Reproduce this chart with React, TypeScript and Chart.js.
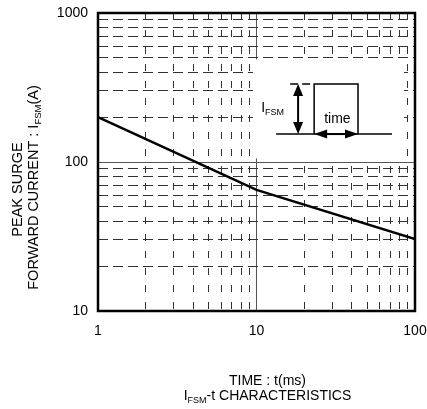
import { useEffect, useRef } from "react";
import { Chart, registerables } from "chart.js";

Chart.register(...registerables);

// ---- data ----
const times = [1, 10, 100];
const currents = [200, 65, 30.4];

const xGridValues = [1, 2, 3, 4, 5, 6, 7, 8, 9, 10, 20, 30, 40, 50, 60, 70, 80, 90, 100];
const yGridValues = [10, 20, 30, 40, 50, 60, 70, 80, 90, 100, 200, 300, 400, 500, 600, 700, 800, 900, 1000];
const xLabelValues = [1, 10, 100];
const yLabelValues = [10, 100, 1000];
const xSolidValues = [10];
const ySolidValues = [100];

// inset (blank box with pulse sketch), in data units
const insetBoxX = [9.5, 85.3];
const insetBoxY = [105.6, 488];
const pulseX = [23.1, 43.7];
const pulseLevels = [154, 334];
const baselineX = [13.3, 71.6];
const ampArrowX = 18.3;
const topDashX = [16.3, 23.1];
const ampLabelPos = [10.7, 230];
const timeLabelPos = [32.4, 194];

const FONT = "'Liberation Sans', Arial, Helvetica, sans-serif";

type Seg = { t: string; sub?: boolean };

function richWidth(ctx: CanvasRenderingContext2D, segs: Seg[], size: number, subSize: number) {
  let w = 0;
  for (const s of segs) {
    ctx.font = `${s.sub ? subSize : size}px ${FONT}`;
    w += ctx.measureText(s.t).width;
  }
  return w;
}

function drawRich(
  ctx: CanvasRenderingContext2D,
  segs: Seg[],
  x: number,
  y: number,
  size: number,
  subSize: number,
  align: "center" | "left"
) {
  const w = richWidth(ctx, segs, size, subSize);
  let cx = align === "center" ? x - w / 2 : x;
  ctx.textAlign = "left";
  ctx.textBaseline = "alphabetic";
  for (const s of segs) {
    ctx.font = `${s.sub ? subSize : size}px ${FONT}`;
    ctx.fillText(s.t, cx, s.sub ? y + 3 : y);
    cx += ctx.measureText(s.t).width;
  }
}

function arrowHead(ctx: CanvasRenderingContext2D, tx: number, ty: number, dx: number, dy: number, len: number, wid: number) {
  const bx = tx - dx * len;
  const by = ty - dy * len;
  const px = -dy;
  const py = dx;
  ctx.beginPath();
  ctx.moveTo(tx, ty);
  ctx.lineTo(bx + (px * wid) / 2, by + (py * wid) / 2);
  ctx.lineTo(bx - (px * wid) / 2, by - (py * wid) / 2);
  ctx.closePath();
  ctx.fill();
}

const decorPlugin = {
  id: "decor",
  beforeDatasetsDraw(chart: any) {
    const { ctx, scales } = chart;
    const xs = scales.x;
    const ys = scales.y;
    const x0 = xs.getPixelForValue(insetBoxX[0]);
    const x1 = xs.getPixelForValue(insetBoxX[1]);
    const y0 = ys.getPixelForValue(insetBoxY[1]);
    const y1 = ys.getPixelForValue(insetBoxY[0]);
    ctx.save();
    ctx.fillStyle = "#ffffff";
    ctx.fillRect(x0, y0, x1 - x0, y1 - y0);
    ctx.restore();
  },
  afterDatasetsDraw(chart: any) {
    const { ctx, chartArea, scales } = chart;
    const xs = scales.x;
    const ys = scales.y;
    ctx.save();
    // frame
    ctx.strokeStyle = "#000";
    ctx.lineWidth = 2.5;
    ctx.strokeRect(chartArea.left, chartArea.top, chartArea.right - chartArea.left, chartArea.bottom - chartArea.top);

    // pulse sketch
    const pxL = xs.getPixelForValue(pulseX[0]);
    const pxR = xs.getPixelForValue(pulseX[1]);
    const yBase = ys.getPixelForValue(pulseLevels[0]);
    const yTop = ys.getPixelForValue(pulseLevels[1]);
    const bL = xs.getPixelForValue(baselineX[0]);
    const bR = xs.getPixelForValue(baselineX[1]);
    const aX = xs.getPixelForValue(ampArrowX);
    ctx.fillStyle = "#000";
    ctx.lineWidth = 1.5;
    ctx.beginPath();
    ctx.moveTo(bL, yBase);
    ctx.lineTo(bR, yBase);
    ctx.stroke();
    ctx.beginPath();
    ctx.moveTo(pxL, yBase);
    ctx.lineTo(pxL, yTop);
    ctx.lineTo(pxR, yTop);
    ctx.lineTo(pxR, yBase);
    ctx.stroke();
    // dashed top reference
    ctx.setLineDash([8, 4]);
    ctx.beginPath();
    ctx.moveTo(xs.getPixelForValue(topDashX[0]), yTop);
    ctx.lineTo(xs.getPixelForValue(topDashX[1]), yTop);
    ctx.stroke();
    ctx.setLineDash([]);
    // amplitude arrow
    ctx.lineWidth = 2;
    ctx.beginPath();
    ctx.moveTo(aX, yTop + 8);
    ctx.lineTo(aX, yBase - 8);
    ctx.stroke();
    arrowHead(ctx, aX, yTop, 0, -1, 12, 10);
    arrowHead(ctx, aX, yBase, 0, 1, 12, 10);
    // time arrow
    ctx.beginPath();
    ctx.moveTo(pxL + 8, yBase);
    ctx.lineTo(pxR - 8, yBase);
    ctx.stroke();
    arrowHead(ctx, pxL, yBase, -1, 0, 13, 9);
    arrowHead(ctx, pxR, yBase, 1, 0, 13, 9);
    // labels in inset
    drawRich(
      ctx,
      [{ t: "I" }, { t: "FSM", sub: true }],
      xs.getPixelForValue(ampLabelPos[0]),
      ys.getPixelForValue(ampLabelPos[1]) + 4,
      14,
      9,
      "left"
    );
    drawRich(
      ctx,
      [{ t: "time" }],
      xs.getPixelForValue(timeLabelPos[0]),
      ys.getPixelForValue(timeLabelPos[1]) + 4,
      14,
      9,
      "center"
    );
    ctx.restore();
  },
  afterDraw(chart: any) {
    const { ctx } = chart;
    ctx.save();
    ctx.fillStyle = "#000";
    // x titles
    drawRich(ctx, [{ t: "TIME : t(ms)" }], 267.5, 385, 14, 9, "center");
    drawRich(
      ctx,
      [{ t: "I" }, { t: "FSM", sub: true }, { t: "-t CHARACTERISTICS" }],
      267.5,
      399.5,
      14,
      9,
      "center"
    );
    // y titles (rotated)
    ctx.save();
    ctx.translate(22, 189.5);
    ctx.rotate(-Math.PI / 2);
    drawRich(ctx, [{ t: "PEAK SURGE" }], 0, 0, 14.5, 9.5, "center");
    ctx.restore();
    ctx.save();
    ctx.translate(38, 187.5);
    ctx.rotate(-Math.PI / 2);
    drawRich(
      ctx,
      [{ t: "FORWARD CURRENT : I" }, { t: "FSM", sub: true }, { t: "(A)" }],
      0,
      0,
      14.5,
      9.5,
      "center"
    );
    ctx.restore();
    ctx.restore();
  },
};

function zeroPad(s: any) {
  s.paddingLeft = 0;
  s.paddingRight = 0;
  s.paddingTop = 0;
  s.paddingBottom = 0;
}

export default function App() {
  const ref = useRef<HTMLCanvasElement | null>(null);

  useEffect(() => {
    if (!ref.current) return;
    const chart = new Chart(ref.current, {
      type: "line",
      data: {
        datasets: [
          {
            data: times.map((t, i) => ({ x: t, y: currents[i] })),
            borderColor: "#000",
            borderWidth: 2.5,
            pointRadius: 0,
            tension: 0,
            fill: false,
          },
        ],
      },
      options: {
        animation: false,
        responsive: false,
        devicePixelRatio: 1,
        layout: { padding: { top: 13, right: 12, left: 0, bottom: 0 } },
        plugins: { legend: { display: false }, tooltip: { enabled: false } },
        scales: {
          x: {
            type: "logarithmic",
            min: 1,
            max: 100,
            afterBuildTicks: (s: any) => {
              s.ticks = xGridValues.map((v) => ({ value: v }));
            },
            afterFit: (s: any) => {
              s.height = 98;
              zeroPad(s);
            },
            ticks: {
              autoSkip: false,
              maxRotation: 0,
              padding: 12,
              color: "#000",
              font: { family: FONT, size: 14 },
              callback: (v: any) => (xLabelValues.includes(Number(v)) ? String(v) : ""),
            },
            grid: {
              drawTicks: false,
              lineWidth: 1,
              color: (c: any) => (c.tick && xSolidValues.includes(c.tick.value) ? "#555" : "#333"),
            },
            border: {
              display: false,
              dash: (c: any) => (c.tick && xSolidValues.includes(c.tick.value) ? [] : [7, 10]),
            },
          },
          y: {
            type: "logarithmic",
            min: 10,
            max: 1000,
            afterBuildTicks: (s: any) => {
              s.ticks = yGridValues.map((v) => ({ value: v }));
            },
            afterFit: (s: any) => {
              s.width = 98;
              zeroPad(s);
            },
            ticks: {
              autoSkip: false,
              padding: 10,
              color: "#000",
              font: { family: FONT, size: 14 },
              callback: (v: any) => (yLabelValues.includes(Number(v)) ? String(v) : ""),
            },
            grid: {
              drawTicks: false,
              lineWidth: 1,
              color: (c: any) => (c.tick && ySolidValues.includes(c.tick.value) ? "#555" : "#333"),
            },
            border: {
              display: false,
              dash: (c: any) => (c.tick && ySolidValues.includes(c.tick.value) ? [] : [10, 5]),
            },
          },
        },
      },
      plugins: [decorPlugin],
    });
    return () => chart.destroy();
  }, []);

  return (
    <div style={{ position: "absolute", left: 0, top: 0, width: 427, height: 409, background: "#fff" }}>
      <canvas ref={ref} width={427} height={409} style={{ display: "block" }} />
    </div>
  );
}
